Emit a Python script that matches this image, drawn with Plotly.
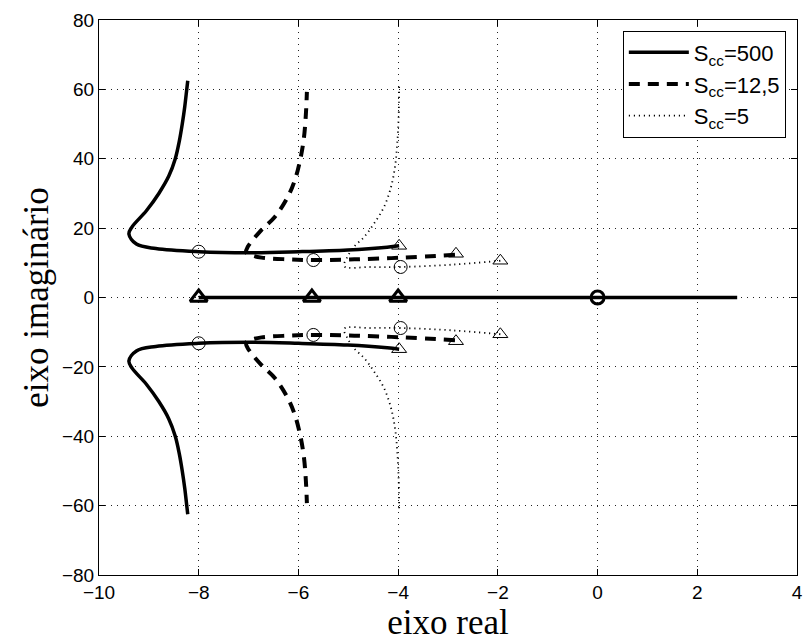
import plotly.graph_objects as go

# Upper branches (lower branches are mirror images)
s500_x = [-3.98, -4.22, -5.01, -6.0, -7.0, -8.0, -8.86, -9.25, -9.40, -9.34, -9.05, -8.80, -8.60, -8.47, -8.39, -8.33, -8.28, -8.24, -8.22]
s500_y = [14.9, 14.5, 13.7, 13.2, 12.9, 13.2, 14.1, 15.4, 18.3, 20.3, 25.0, 30.0, 35.0, 40.0, 45.0, 50.0, 55.0, 60.0, 62.5]

s125_x = [-2.86, -3.89, -4.88, -5.70, -6.21, -6.74, -6.95, -7.05, -7.02, -6.74, -6.47, -6.21, -6.07, -5.96, -5.89, -5.85, -5.83]
s125_y = [12.3, 11.5, 11.0, 10.8, 11.0, 11.5, 12.2, 13.0, 14.5, 19.5, 23.3, 29.1, 33.9, 40.0, 46.0, 53.0, 59.3]

s5_x = [-1.95, -2.89, -3.95, -4.55, -5.08, -5.01, -4.88, -4.68, -4.48, -4.28, -4.14, -4.06, -4.02, -3.99, -3.98]
s5_y = [10.6, 9.5, 8.8, 8.8, 9.0, 11.9, 14.7, 17.5, 21.4, 26.2, 32.0, 38.0, 44.0, 52.0, 61.3]

# Markers: open triangles (poles) and open circles
tri_complex_x = [-3.98, -2.84, -1.95]
tri_complex_y = [14.9, 12.6, 10.6]
circ_complex_x = [-8.0, -5.70, -3.95]
circ_complex_y = [13.2, 10.8, 8.8]

real_x = [-8.0, 2.8]
real_tri_x = [-8.0, -5.73, -4.0]
real_circ_x = [0.0]

labels = ["S<sub>cc</sub>=500", "S<sub>cc</sub>=12,5", "S<sub>cc</sub>=5"]

fig = go.Figure()

def mirror(v):
    return [-a for a in v]

styles = [
    dict(width=3.5, dash="solid"),
    dict(width=4, dash="11px,8px"),
    dict(width=1.8, dash="1.2px,3.8px"),
]
series = [(s500_x, s500_y), (s125_x, s125_y), (s5_x, s5_y)]

# draw dotted first, then dashed, then solid on top
for idx in [2, 1, 0]:
    xs, ys = series[idx]
    st = styles[idx]
    fig.add_trace(go.Scatter(x=xs, y=ys, mode="lines", name=labels[idx],
                             line=dict(color="black", width=st["width"], dash=st["dash"], shape="spline", smoothing=1.0),
                             legendrank=idx + 1, showlegend=True))
    fig.add_trace(go.Scatter(x=xs, y=mirror(ys), mode="lines", showlegend=False,
                             line=dict(color="black", width=st["width"], dash=st["dash"], shape="spline", smoothing=1.0)))

# real-axis branch
fig.add_trace(go.Scatter(x=real_x, y=[0, 0], mode="lines", showlegend=False,
                         line=dict(color="black", width=3.5)))

# complex markers
fig.add_trace(go.Scatter(x=tri_complex_x + tri_complex_x, y=tri_complex_y + mirror(tri_complex_y),
                         mode="markers", showlegend=False,
                         marker=dict(symbol="triangle-up-open", size=13, color="black", line=dict(width=1))))
fig.add_trace(go.Scatter(x=circ_complex_x + circ_complex_x, y=circ_complex_y + mirror(circ_complex_y),
                         mode="markers", showlegend=False,
                         marker=dict(symbol="circle-open", size=13, color="black", line=dict(width=1))))
# real axis markers (bold)
fig.add_trace(go.Scatter(x=real_tri_x, y=[0] * len(real_tri_x), mode="markers", showlegend=False,
                         marker=dict(symbol="triangle-up-open", size=15, color="black", line=dict(width=3))))
fig.add_trace(go.Scatter(x=real_circ_x, y=[0], mode="markers", showlegend=False,
                         marker=dict(symbol="circle-open", size=13, color="black", line=dict(width=3))))

axis_common = dict(
    showline=True, linecolor="black", linewidth=1, mirror="ticks",
    ticks="inside", ticklen=6, tickcolor="black",
    showgrid=True, gridcolor="#222", gridwidth=1, griddash="1px,5px",
    zeroline=False,
    tickfont=dict(family="Liberation Sans, Arial", size=19, color="black"),
)

fig.update_layout(
    width=811, height=644,
    margin=dict(l=99, r=8, t=20, b=69),
    paper_bgcolor="white", plot_bgcolor="white",
    xaxis=dict(range=[-10, 4], dtick=2, tick0=0,
               title=dict(text="eixo real", font=dict(family="Liberation Serif, Times New Roman", size=35, color="black"), standoff=2),
               **axis_common),
    yaxis=dict(range=[-80, 80], dtick=20, tick0=0,
               title=dict(text="eixo imaginário", font=dict(family="Liberation Serif, Times New Roman", size=35, color="black"), standoff=2),
               **axis_common),
    legend=dict(x=0.984, y=0.981, xanchor="right", yanchor="top",
                bgcolor="white", bordercolor="black", borderwidth=1,
                font=dict(family="Liberation Sans, Arial", size=22, color="black"),
                itemwidth=60, tracegroupgap=0),
    showlegend=True,
)

fig.write_html("out.html")
